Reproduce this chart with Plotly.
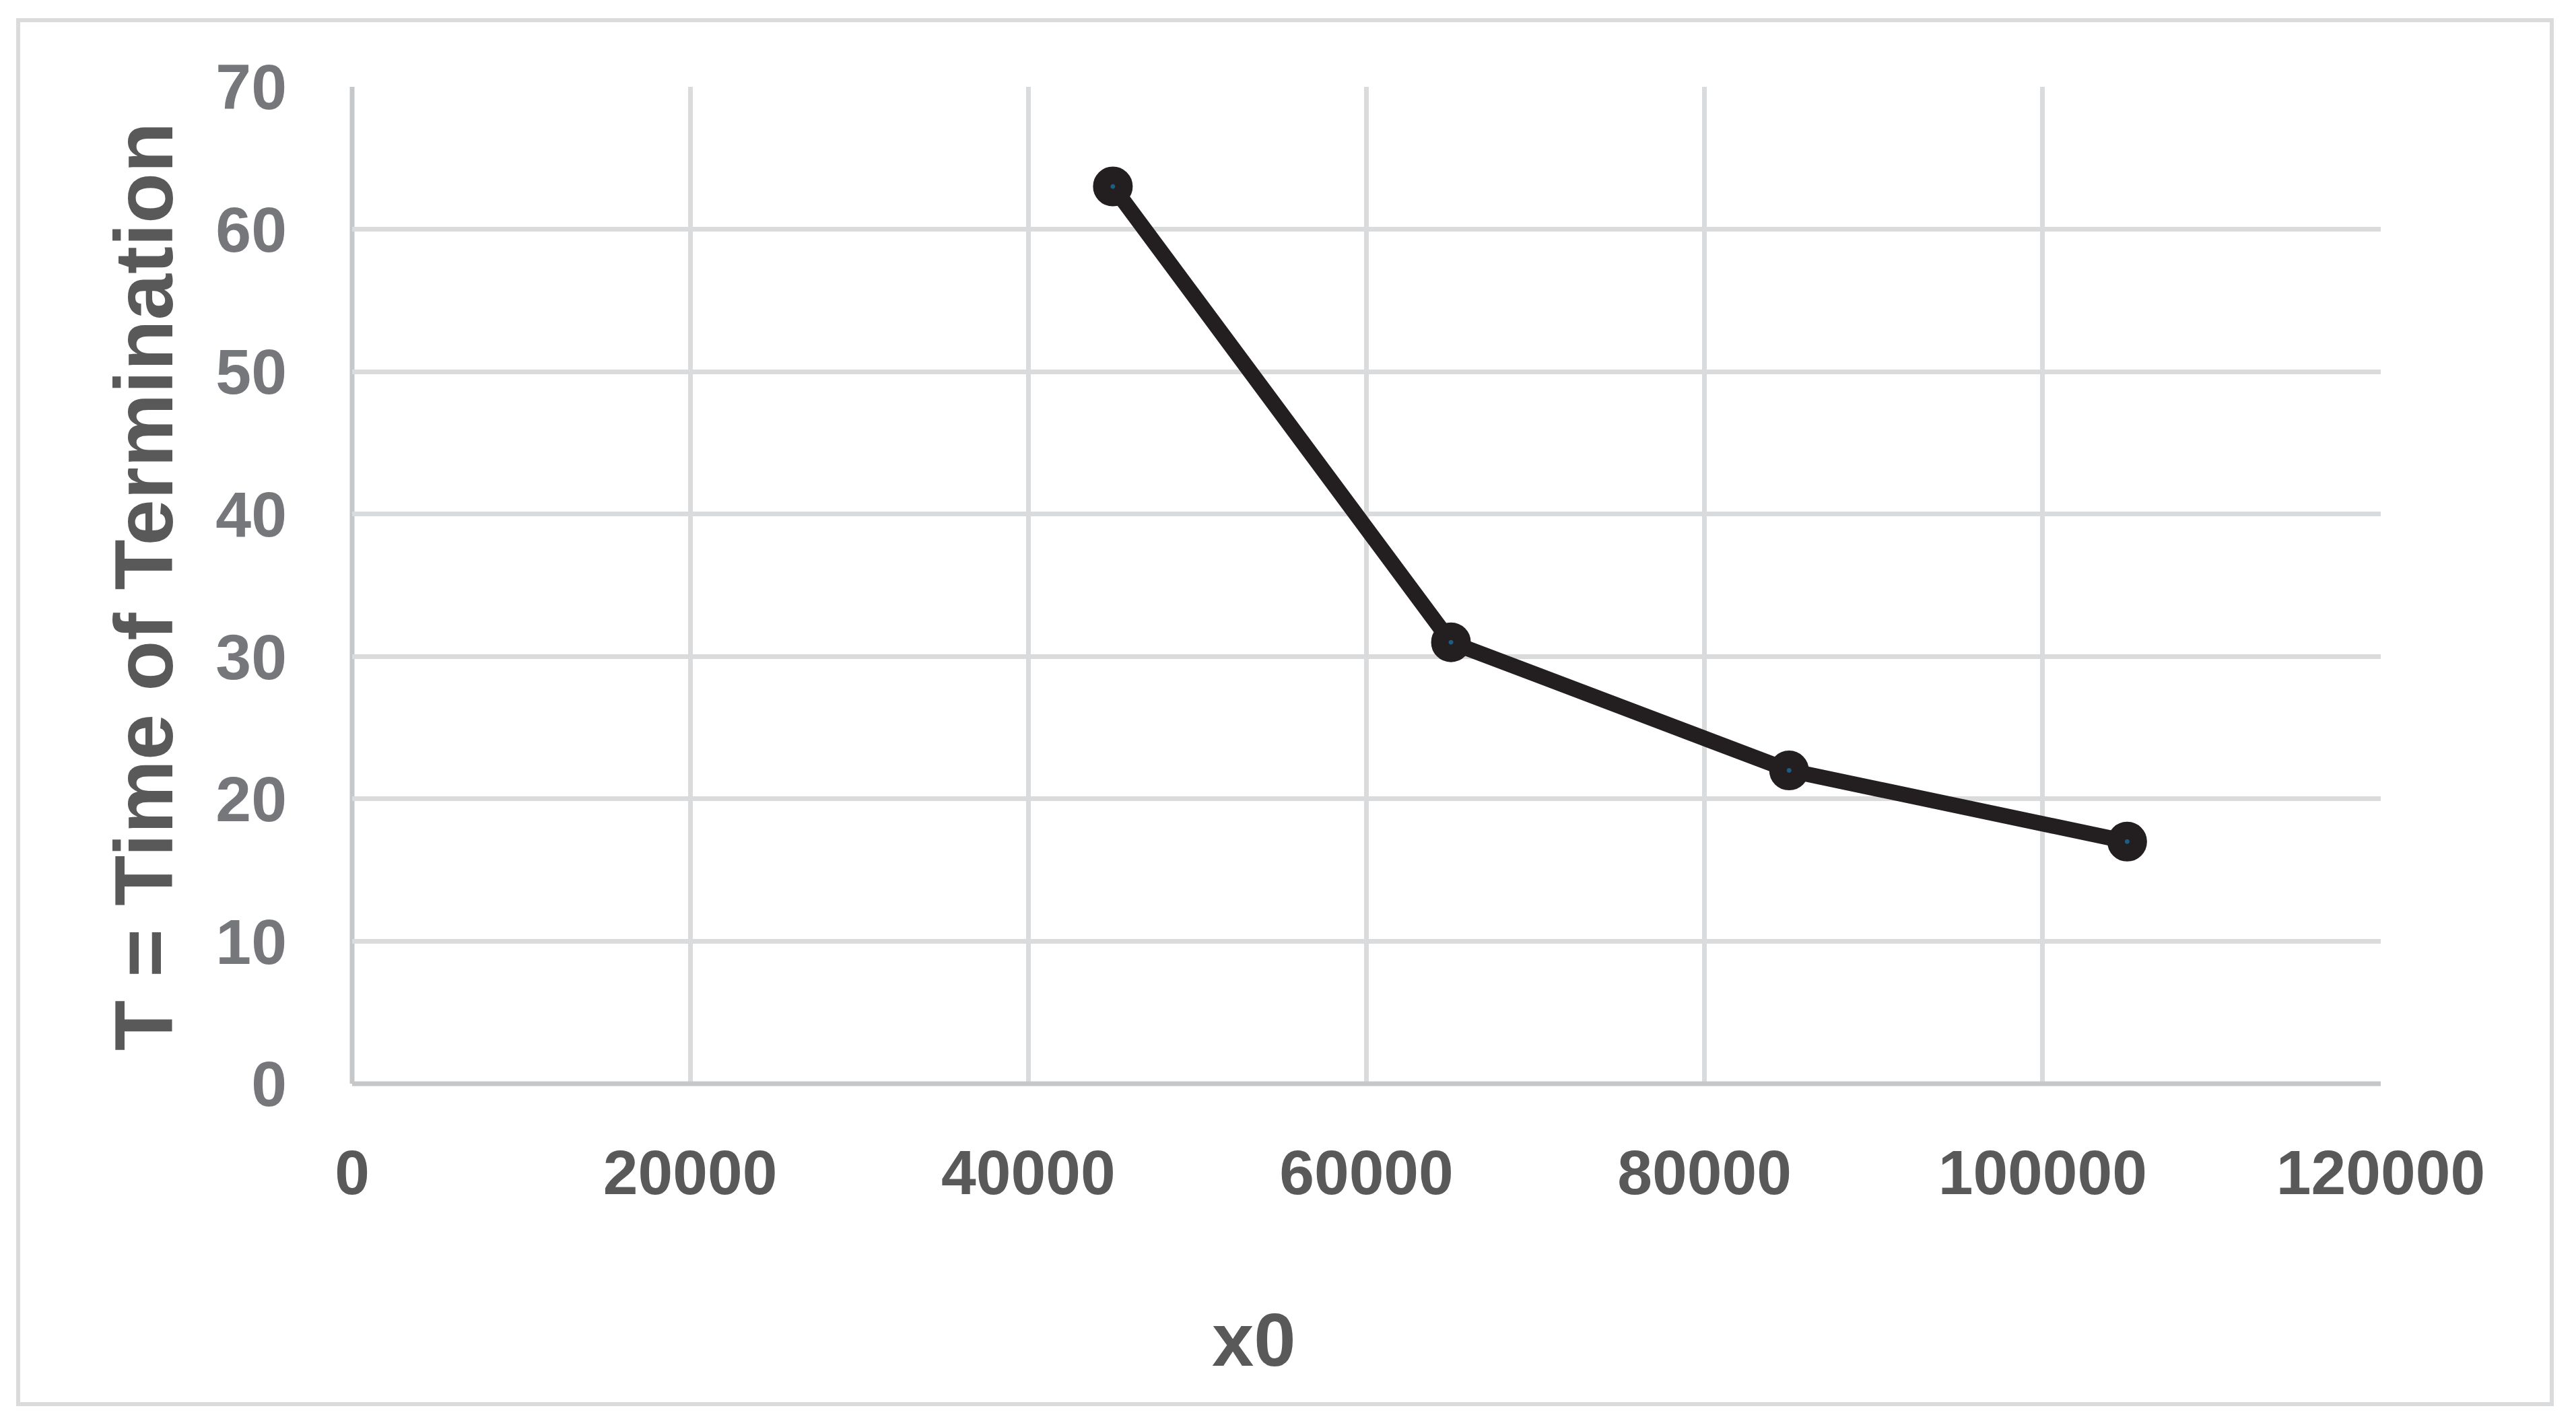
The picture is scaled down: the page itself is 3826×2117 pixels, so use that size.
import plotly.graph_objects as go

# Data
x0_values = [45000, 65000, 85000, 105000]
termination_time = [63, 31, 22, 17]
x_ticks = [0, 20000, 40000, 60000, 80000, 100000, 120000]
y_ticks = [0, 10, 20, 30, 40, 50, 60, 70]

OFF = 8  # default browser body margin
W, H = 3826 - OFF, 2117 - OFF
# plot area in screen pixels of the reference, shifted to figure pixels
L, R, T, B = 523 - OFF, 3536 - OFF, 129 - OFF, 1610 - OFF

def px(xp):
    return (xp - OFF - L) / (R - L)

def py(yp):
    return (B - (yp - OFF)) / (B - T)

FONT = "Liberation Sans, Arial, sans-serif"

fig = go.Figure()
fig.add_trace(go.Scatter(
    x=x0_values, y=termination_time, mode="lines+markers",
    line=dict(color="#231f20", width=23),
    marker=dict(size=33, color="#1b5e85", line=dict(color="#231f20", width=26)),
    showlegend=False,
))

axis_common = dict(
    showgrid=True, gridcolor="#dadbdc", gridwidth=7,
    zeroline=False, showline=False, ticks="",
)

fig.update_xaxes(
    range=[0, 120000], tickvals=x_ticks, ticktext=[str(v) for v in x_ticks],
    tickfont=dict(family=FONT, size=93, color="#595959", weight="bold"),
    ticklabelstandoff=70,
    **axis_common,
)
fig.update_yaxes(
    range=[0, 70], tickvals=y_ticks, ticktext=[str(v) for v in y_ticks],
    tickfont=dict(family=FONT, size=95, color="#76777a", weight="bold"),
    ticklabelstandoff=96,
    **axis_common,
)

shapes = [
    # axis lines
    dict(type="line", xref="paper", yref="paper", x0=0, x1=1, y0=0, y1=0,
         line=dict(color="#c6c7c9", width=7), layer="above"),
    dict(type="line", xref="paper", yref="paper", x0=0, x1=0, y0=0, y1=1,
         line=dict(color="#c6c7c9", width=7), layer="below"),
    # outer chart border
    dict(type="rect", xref="paper", yref="paper",
         x0=px(27), x1=px(3790), y0=py(2086), y1=py(30),
         line=dict(color="#dadbdc", width=6), layer="below"),
]

annotations = [
    dict(text="<b>x0</b>", xref="paper", yref="paper", x=px(1862), y=py(1990),
         showarrow=False, font=dict(family=FONT, size=112, color="#595959"),
         xanchor="center", yanchor="middle"),
    dict(text="<b>T = Time of Termination</b>", xref="paper", yref="paper",
         x=px(213), y=py(872), textangle=-90, showarrow=False,
         font=dict(family=FONT, size=123, color="#595959"),
         xanchor="center", yanchor="middle"),
]

fig.update_layout(
    width=W, height=H,
    margin=dict(l=L, r=W - R, t=T, b=H - B, pad=0),
    paper_bgcolor="white", plot_bgcolor="white",
    shapes=shapes, annotations=annotations,
)

fig.write_html("out.html")
